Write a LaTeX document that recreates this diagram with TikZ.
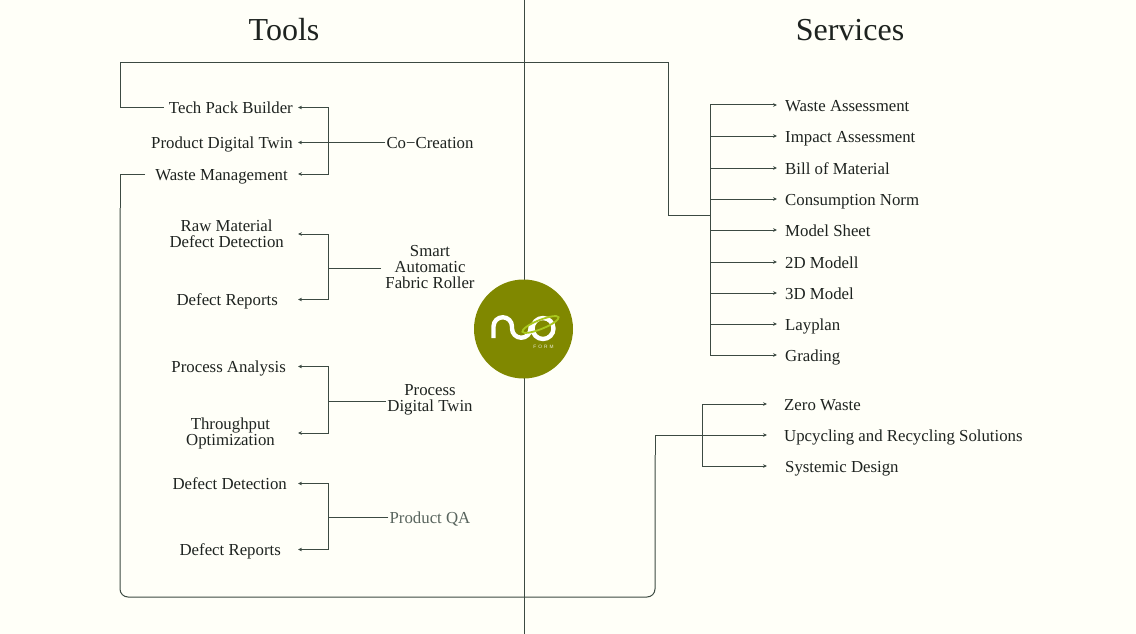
\documentclass[tikz,border=0pt]{standalone}
\usepackage{fontspec}
\setmainfont{Liberation Serif}
\setsansfont{Liberation Sans}
\usetikzlibrary{arrows.meta}
\definecolor{paper}{HTML}{FFFFF8}
\definecolor{wire}{HTML}{3C4A42}
\definecolor{inkc}{HTML}{1E2320}
\definecolor{olive}{HTML}{808800}
\definecolor{leaf}{HTML}{A9C81E}
\tikzset{
  wireline/.style={draw=wire, line width=1pt},
  arr/.style={wireline, -{Stealth[length=4pt,width=3.6pt]}},
  label/.style={text=inkc, font=\fontsize{16.8}{16}\selectfont, align=center, inner sep=0pt},
  oneline/.style={text height=13.5pt, text depth=1.5pt},
  tool/.style={label, anchor=east, inner xsep=5pt},
  serv/.style={label, oneline, anchor=west, inner xsep=8pt},
  group/.style={label, inner xsep=1pt},
  title/.style={text=inkc, font=\fontsize{32}{36}\selectfont, inner sep=0pt}
}
\begin{document}
\begin{tikzpicture}[x=1pt, y=-1pt]
  \path[fill=paper, use as bounding box] (0,0) rectangle (1136,634);

  \node[title] (tools) at (284,30) {Tools};
  \node[title] (services) at (850,30) {Services};

  % centre line and logo
  \coordinate (spinetop) at (524,0);
  \coordinate (spinebot) at (524,634);
  \draw[wireline] (spinetop) -- (spinebot);
  \node[circle, fill=olive, minimum size=99pt, inner sep=0pt] (logo) at (523.5,329) {};
  \draw[white, line width=4.4pt]
    (493.5,338) -- (493.5,326.5) arc[start angle=180, end angle=360, radius=9.25]
    -- (512,328.5) arc[start angle=180, end angle=0, radius=9.25] -- (530.5,325);
  \draw[white, line width=4.4pt] (543,328.5) circle[radius=10.5];
  \draw[leaf, line width=1.8pt, rotate around={22:(540.5,324.5)}] (540.5,324.5) ellipse[x radius=19.5, y radius=4.5];
  \node[text=white!85!olive, font=\sffamily\fontsize{4.8}{5}\selectfont, inner sep=0pt] (form) at (543.5,347) {F\hspace{2pt}O\hspace{2pt}R\hspace{2pt}M};

  % tools
  \node[tool, oneline] (techpack) at (298,107.5) {Tech Pack Builder};
  \node[tool, oneline] (twin) at (298,142.5) {Product Digital Twin};
  \node[tool, oneline, inner xsep=10pt] (waste) at (298,174) {Waste Management};
  \node[group, oneline] (cocreate) at (430,142.5) {Co−Creation};

  \node[tool, inner xsep=14pt] (rawmat) at (298,234) {Raw Material\\Defect Detection};
  \node[tool, oneline, inner xsep=20pt] (reports) at (298,299.5) {Defect Reports};
  \node[group, inner xsep=4pt] (roller) at (430,267) {Smart\\Automatic\\Fabric Roller};

  \node[tool, oneline, inner xsep=12pt] (analysis) at (298,366.5) {Process Analysis};
  \node[tool, inner xsep=23pt] (throughput) at (298,433) {Throughput\\Optimization};
  \node[group] (process) at (430,400) {Process\\Digital Twin};

  \node[tool, oneline, inner xsep=11pt] (detect) at (298,483.5) {Defect Detection};
  \node[tool, oneline, inner xsep=17pt] (reportsb) at (298,549.5) {Defect Reports};
  \node[group, oneline] (qa) at (430,517) {\textcolor{wire!85!white}{Product QA}};

  \coordinate (busa) at (328.5,142.5);
  \coordinate (busb) at (328.5,268);
  \coordinate (busc) at (328.5,401);
  \coordinate (busd) at (328.5,517);

  \draw[arr] (cocreate.west) -- (twin.east);
  \draw[arr] (busa) |- (techpack.east);
  \draw[arr] (busa) |- (waste.east);
  \draw[wireline] (roller.west |- busb) -- (busb);
  \draw[arr] (busb) |- (rawmat.east);
  \draw[arr] (busb) |- (reports.east);
  \draw[wireline] (process.west |- busc) -- (busc);
  \draw[arr] (busc) |- (analysis.east);
  \draw[arr] (busc) |- (throughput.east);
  \draw[wireline] (qa.west |- busd) -- (busd);
  \draw[arr] (busd) |- (detect.east);
  \draw[arr] (busd) |- (reportsb.east);

  % services
  \foreach \name/\ypos/\txt in {wasteas/105/Waste Assessment, impact/136/Impact Assessment,
      bill/168/Bill of Material, norm/199/Consumption Norm, sheet/230/Model Sheet,
      twod/262/2D Modell, threed/293/3D Model, layplan/324/Layplan, grading/355/Grading}
    \node[serv] (\name) at (777,\ypos) {\txt};
  \node[serv, inner xsep=17pt] (zero) at (767,404) {Zero Waste};
  \node[serv, inner xsep=17pt] (upcycle) at (767,435) {Upcycling and Recycling Solutions};
  \node[serv, inner xsep=18pt] (systemic) at (767,466) {Systemic Design};

  \coordinate (buse) at (710,215);
  \coordinate (busf) at (702,435);
  \foreach \name in {wasteas,impact,bill,norm,sheet,twod,threed,layplan,grading}
    \draw[arr] (buse) |- (\name.west);
  \draw[arr] (busf) |- (zero.west);
  \draw[arr] (busf) |- (systemic.west);

  % long links between both sides
  \coordinate (topleft) at (120,63);
  \coordinate (topright) at (668,63);
  \coordinate (kneeleft) at (120,208);
  \coordinate (lowleft) at (120,597);
  \coordinate (lowright) at (655,597);
  \coordinate (kneeright) at (655,435);
  \draw[wireline] (techpack.west) -| (topleft) -- (topright) |- (buse);
  \draw[wireline] (waste.west) -| (kneeleft);
  \draw[wireline, rounded corners=8pt] (kneeleft) -- (lowleft) -- (lowright) -- ([yshift=-20pt]kneeright);
  \draw[arr] ([yshift=-20pt]kneeright) -- (kneeright) -- (upcycle.west);
\end{tikzpicture}
\end{document}
